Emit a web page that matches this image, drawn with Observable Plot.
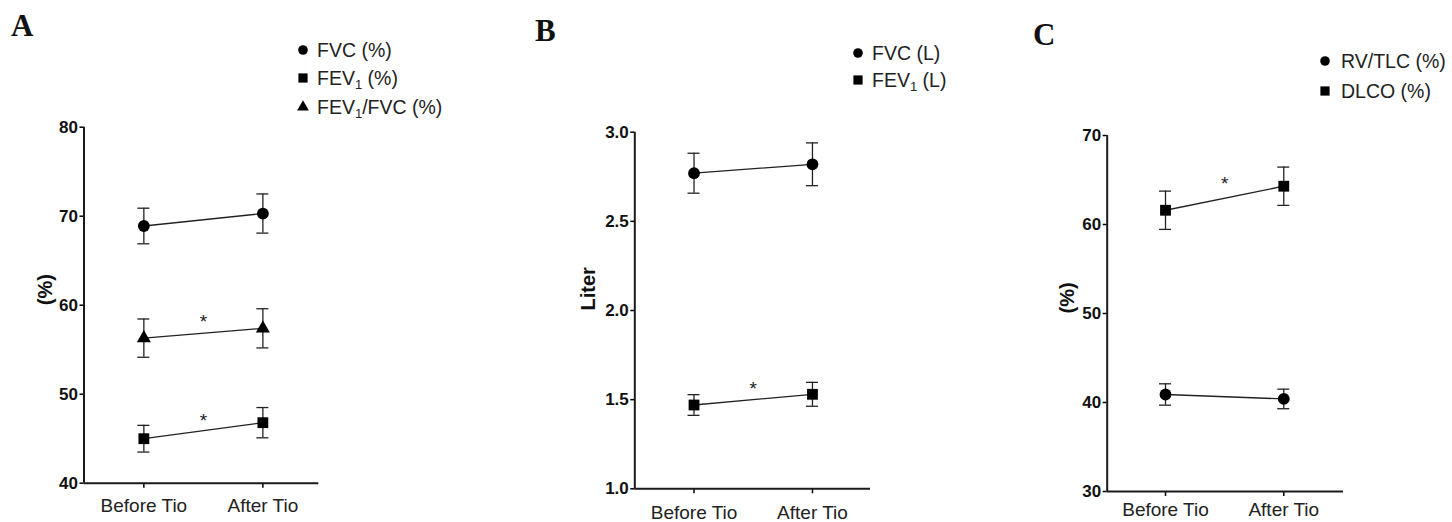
<!DOCTYPE html>
<html><head><meta charset="utf-8">
<script src="https://cdn.jsdelivr.net/npm/d3@7"></script>
<script src="https://cdn.jsdelivr.net/npm/@observablehq/plot@0.6"></script>
<style>
body{margin:0;background:#fff;}
#wrap{position:relative;width:1452px;height:522px;overflow:hidden;font-family:"Liberation Sans",Arial,sans-serif;}
#wrap > svg{position:absolute;top:0;margin:0;}
g[aria-label="y-axis tick label"] text{font-weight:bold;}
</style></head><body><div id="wrap"></div>
<script>
// ---------- data ----------
const conditions = ["Before Tio", "After Tio"];
// Panel A (%)
const fvcPctMean = [68.9, 70.3],   fvcPctSem = [2.0, 2.2];
const fev1PctMean = [45.0, 46.8],  fev1PctSem = [1.5, 1.7];
const ratioPctMean = [56.3, 57.4], ratioPctSem = [2.15, 2.2];
const starsA = [58.7, 47.6];
const ticksA = [40, 50, 60, 70, 80];
// Panel B (Liter)
const fvcLMean = [2.77, 2.82],  fvcLSem = [0.112, 0.12];
const fev1LMean = [1.47, 1.53], fev1LSem = [0.058, 0.067];
const starsB = [1.59];
const ticksB = [1.0, 1.5, 2.0, 2.5, 3.0];
// Panel C (%)
const rvtlcMean = [40.9, 40.4], rvtlcSem = [1.2, 1.1];
const dlcoMean = [61.6, 64.3],  dlcoSem = [2.15, 2.15];
const starsC = [65.1];
const ticksC = [30, 40, 50, 60, 70];

// ---------- helpers ----------
function rowsOf(series, means, sems) {
  return conditions.map((c, i) => ({series, i, cond: c, mean: means[i], lo: means[i] - sems[i], hi: means[i] + sems[i]}));
}
const symR = {circle: 5.9, square: 6.1, triangle: 5.2};

function panel(cfg) {
  const marks = [
    Plot.axisY({ticks: cfg.ticks, tickFormat: cfg.fmt, tickSize: 4, tickPadding: 2, fontSize: 17, fontWeight: "bold", strokeWidth: 1.5, label: null, fill: "#111"}),
    Plot.axisX({ticks: [0, 1], tickFormat: i => conditions[i], tickSize: 5, tickPadding: cfg.xPad, fontSize: 19, strokeWidth: 1.5, label: null, fill: "#222"}),
    Plot.ruleX([cfg.xDomain[0]], {strokeWidth: 2, stroke: "#1a1a1a"}),
    Plot.ruleY([cfg.yDomain[0]], {strokeWidth: 2, stroke: "#1a1a1a"})
  ];
  for (const s of cfg.series) {
    const rows = rowsOf(s.name, s.mean, s.sem);
    marks.push(
      Plot.line(rows, {x: "i", y: "mean", stroke: "#222", strokeWidth: 1.3}),
      Plot.ruleX(rows, {x: "i", y1: "lo", y2: "hi", stroke: "#222", strokeWidth: 1.3}),
      Plot.ruleY(rows, {y: "hi", x1: "i", x2: "i", insetLeft: -6, insetRight: -6, stroke: "#222", strokeWidth: 1.3}),
      Plot.ruleY(rows, {y: "lo", x1: "i", x2: "i", insetLeft: -6, insetRight: -6, stroke: "#222", strokeWidth: 1.3}),
      Plot.dot(rows, {x: "i", y: "mean", symbol: s.symbol, r: symR[s.symbol], fill: "#000", stroke: "none"})
    );
  }
  marks.push(
    Plot.text(cfg.stars, {x: 0.5, y: d => d, text: () => "*", fontSize: 19, dy: 5, fill: "#222"}),
    Plot.text([cfg.label], {frameAnchor: "left", dx: cfg.labelDx, rotate: -90, fontWeight: "bold", fontSize: 20, fill: "#111"})
  );
  const svg = Plot.plot({
    width: cfg.width, height: 522,
    marginLeft: cfg.ml, marginRight: cfg.mr, marginTop: cfg.mt, marginBottom: cfg.mb,
    x: {domain: cfg.xDomain},
    y: {domain: cfg.yDomain},
    style: {fontFamily: '"Liberation Sans", Arial, sans-serif', background: "transparent", overflow: "visible"},
    marks
  });
  svg.style.left = cfg.left + "px";
  document.getElementById("wrap").appendChild(svg);
}

panel({left: 0, width: 480, ml: 83.5, mr: 161.7, mt: 126.7, mb: 39.3,
  xDomain: [-0.503, 1.47], yDomain: [40, 80], ticks: ticksA, fmt: d => d, xPad: 10.6,
  label: "(%)", labelDx: -38.5, stars: starsA,
  series: [
    {name: "FVC (%)", mean: fvcPctMean, sem: fvcPctSem, symbol: "circle"},
    {name: "FEV1 (%)", mean: fev1PctMean, sem: fev1PctSem, symbol: "square"},
    {name: "FEV1/FVC (%)", mean: ratioPctMean, sem: ratioPctSem, symbol: "triangle"}
  ]});
panel({left: 490, width: 470, ml: 144.3, mr: 90, mt: 131.7, mb: 33.7,
  xDomain: [-0.5, 1.49], yDomain: [1.0, 3.0], ticks: ticksB, fmt: d3.format(".1f"), xPad: 11.7,
  label: "Liter", labelDx: -46, stars: starsB,
  series: [
    {name: "FVC (L)", mean: fvcLMean, sem: fvcLSem, symbol: "circle"},
    {name: "FEV1 (L)", mean: fev1LMean, sem: fev1LSem, symbol: "square"}
  ]});
panel({left: 970, width: 482, ml: 136.7, mr: 109, mt: 135, mb: 31,
  xDomain: [-0.493, 1.505], yDomain: [30, 70], ticks: ticksC, fmt: d => d, xPad: 5.7,
  label: "(%)", labelDx: -40, stars: starsC,
  series: [
    {name: "RV/TLC (%)", mean: rvtlcMean, sem: rvtlcSem, symbol: "circle"},
    {name: "DLCO (%)", mean: dlcoMean, sem: dlcoSem, symbol: "square"}
  ]});

// ---------- panel letters and legends ----------
const over = d3.select("#wrap").append("svg")
  .attr("width", 1452).attr("height", 522)
  .style("left", "0px").style("pointer-events", "none");

const letters = [["A", 11, 36], ["B", 535, 41], ["C", 1033, 45]];
over.selectAll("text.letter").data(letters).join("text")
  .attr("x", d => d[1]).attr("y", d => d[2])
  .attr("font-family", '"Liberation Serif", "Times New Roman", serif')
  .attr("font-weight", "bold").attr("font-size", 31).attr("fill", "#111")
  .text(d => d[0]);

const legends = [
  {mx: 303, tx: 317, items: [
    {sym: "circle", y: 50, parts: ["FVC (%)"]},
    {sym: "square", y: 78, parts: ["FEV", ["1"], " (%)"]},
    {sym: "triangle", y: 107, parts: ["FEV", ["1"], "/FVC (%)"]}]},
  {mx: 858, tx: 872, items: [
    {sym: "circle", y: 53, parts: ["FVC (L)"]},
    {sym: "square", y: 80, parts: ["FEV", ["1"], " (L)"]}]},
  {mx: 1325, tx: 1341, items: [
    {sym: "circle", y: 61, parts: ["RV/TLC (%)"]},
    {sym: "square", y: 91, parts: ["DLCO (%)"]}]}
];
const symSize = {circle: Math.PI * 4.8 * 4.8, square: 85, triangle: 60};
const symType = {circle: d3.symbolCircle, square: d3.symbolSquare, triangle: d3.symbolTriangle};
for (const lg of legends) {
  for (const it of lg.items) {
    over.append("path")
      .attr("d", d3.symbol(symType[it.sym], symSize[it.sym])())
      .attr("transform", `translate(${lg.mx},${it.y})`)
      .attr("fill", "#000");
    const t = over.append("text").attr("x", lg.tx).attr("y", it.y + 7.2)
      .attr("font-size", 19.5).attr("fill", "#222")
      .attr("font-family", '"Liberation Sans", Arial, sans-serif');
    for (const p of it.parts) {
      if (Array.isArray(p)) {
        t.append("tspan").attr("font-size", 13).attr("dy", 4).text(p[0]);
      } else {
        const ts = t.append("tspan").text(p);
        if (t.selectAll("tspan").size() > 1) ts.attr("dy", -4);
      }
    }
  }
}
</script></body></html>
